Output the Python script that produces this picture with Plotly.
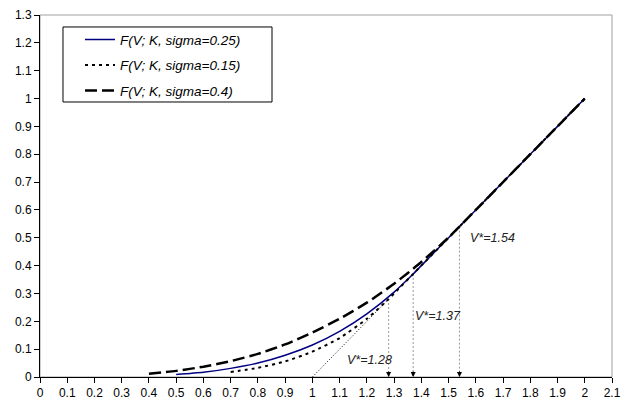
import plotly.graph_objects as go

# Data
v_s025 = [0.5, 0.6, 0.7, 0.8, 0.9, 1.0, 1.1, 1.2, 1.3, 1.37, 1.4, 1.5, 1.6, 1.7, 1.8, 1.9, 2.0]
f_s025 = [0.009, 0.017, 0.031, 0.050, 0.078, 0.115, 0.164, 0.227, 0.305, 0.37, 0.40, 0.50, 0.60, 0.70, 0.80, 0.90, 1.00]

v_s015 = [0.7, 0.8, 0.9, 1.0, 1.1, 1.2, 1.28, 1.3, 1.4, 1.5, 1.6, 1.7, 1.8, 1.9, 2.0]
f_s015 = [0.018, 0.033, 0.056, 0.091, 0.140, 0.209, 0.28, 0.30, 0.40, 0.50, 0.60, 0.70, 0.80, 0.90, 1.00]

v_s040 = [0.4, 0.5, 0.6, 0.7, 0.8, 0.9, 1.0, 1.1, 1.2, 1.3, 1.4, 1.5, 1.54, 1.6, 1.7, 1.8, 1.9, 2.0]
f_s040 = [0.012, 0.022, 0.037, 0.057, 0.083, 0.117, 0.160, 0.209, 0.267, 0.335, 0.413, 0.501, 0.54, 0.60, 0.70, 0.80, 0.90, 1.00]

tangent_v = [1.0, 1.28]
tangent_f = [0.0, 0.28]

v_star = [1.28, 1.37, 1.54]
f_star = [0.28, 0.37, 0.54]
v_star_labels = ["V*=1.28", "V*=1.37", "V*=1.54"]
label_x = [1.21, 1.46, 1.66]
label_y = [0.06, 0.22, 0.50]

x_ticks = [round(i * 0.1, 1) for i in range(22)]
x_tick_labels = ["0", "0.1", "0.2", "0.3", "0.4", "0.5", "0.6", "0.7", "0.8", "0.9", "1",
                 "1.1", "1.2", "1.3", "1.4", "1.5", "1.6", "1.7", "1.8", "1.9", "2", "2.1"]
y_ticks = [round(i * 0.1, 1) for i in range(14)]
y_tick_labels = ["0", "0.1", "0.2", "0.3", "0.4", "0.5", "0.6", "0.7", "0.8", "0.9", "1",
                 "1.1", "1.2", "1.3"]

FONT = "Liberation Sans, Arial, sans-serif"

fig = go.Figure()

# tangent dotted thin line
fig.add_trace(go.Scatter(x=tangent_v, y=tangent_f, mode="lines",
                         line=dict(color="black", width=1, dash="1px,2px"),
                         showlegend=False, hoverinfo="skip"))

# vertical dashed guides
for vs, fs in zip(v_star, f_star):
    fig.add_trace(go.Scatter(x=[vs, vs], y=[fs, 0], mode="lines",
                             line=dict(color="#9a9a9a", width=1, dash="2px,2px"),
                             showlegend=False, hoverinfo="skip"))

fig.add_trace(go.Scatter(x=v_s025, y=f_s025, mode="lines", name="<i>F(V; K, sigma=0.25)</i>",
                         line=dict(color="#000080", width=1.5, shape="spline", smoothing=0.6),
                         legendgroup="a"))
fig.add_trace(go.Scatter(x=v_s015, y=f_s015, mode="lines", name="<i>F(V; K, sigma=0.15)</i>",
                         line=dict(color="black", width=2, dash="3px,4px", shape="spline", smoothing=0.6),
                         legendgroup="b"))
fig.add_trace(go.Scatter(x=v_s040, y=f_s040, mode="lines", name="<i>F(V; K, sigma=0.4)</i>",
                         line=dict(color="black", width=2.5, dash="12px,5px", shape="spline", smoothing=0.6),
                         legendgroup="c"))

# arrowheads
for vs in v_star:
    fig.add_annotation(x=vs, y=0, ax=0, ay=-7, xref="x", yref="y", text="",
                       showarrow=True, arrowhead=2, arrowsize=1, arrowwidth=1,
                       arrowcolor="black", standoff=0)

for t, lx, ly in zip(v_star_labels, label_x, label_y):
    fig.add_annotation(x=lx, y=ly, xref="x", yref="y", text="<i>" + t + "</i>",
                       showarrow=False, font=dict(size=12.5, color="#222222", family=FONT))

# gray frame (top/right)
fig.add_shape(type="rect", xref="paper", yref="paper", x0=0, y0=0, x1=1, y1=1,
              line=dict(color="#a0a0a0", width=1), layer="below")

# legend box
fig.add_shape(type="rect", xref="paper", yref="paper", x0=0.0402, y0=0.7597, x1=0.4056, y1=0.9669,
              line=dict(color="black", width=1), fillcolor="white", layer="below")

fig.update_layout(
    width=634, height=406,
    autosize=False,
    margin=dict(l=40, r=22, t=15, b=29, autoexpand=False),
    paper_bgcolor="white", plot_bgcolor="white",
    font=dict(family=FONT, size=12, color="black"),
    showlegend=True,
    legend=dict(x=0.0699, y=0.9745, xanchor="left", yanchor="top",
                borderwidth=0, bgcolor="rgba(0,0,0,0)",
                font=dict(size=13.5, color="black", family=FONT), tracegroupgap=5,
                traceorder="grouped"),
    xaxis=dict(range=[0, 2.1], tickvals=x_ticks, ticktext=x_tick_labels,
               showgrid=False, zeroline=False, showline=True, linecolor="black",
               linewidth=1, ticks="outside", ticklen=5, tickcolor="black",
               tickfont=dict(size=12), automargin=False),
    yaxis=dict(range=[0, 1.3], tickvals=y_ticks, ticktext=y_tick_labels,
               showgrid=False, zeroline=False, showline=True, linecolor="black",
               linewidth=1, ticks="outside", ticklen=5, tickcolor="black",
               tickfont=dict(size=12), automargin=False),
)

fig.write_html("out.html", config={"displayModeBar": False, "responsive": False},
               post_script="document.body.style.margin='0';document.body.style.overflow='hidden';document.documentElement.style.overflow='hidden';")
